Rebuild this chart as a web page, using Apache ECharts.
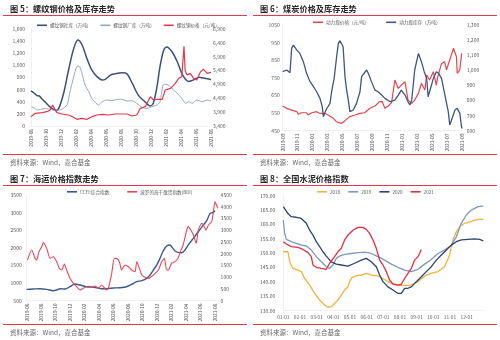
<!DOCTYPE html>
<html><head><meta charset="utf-8">
<script src="https://cdn.jsdelivr.net/npm/echarts@6/dist/echarts.min.js"></script>
<style>html,body{margin:0;padding:0;background:#fff}#c{width:500px;height:340px}</style>
</head><body><div id="c"></div>
<script>
// ---------- text ----------
const titles = ['图 5：螺纹钢价格及库存走势', '图 6：煤炭价格及库存走势', '图 7：海运价格指数走势', '图 8：全国水泥价格指数'];
const sourceText = '资料来源：Wind，嘉合基金';

// ---------- panel 1 : rebar ----------
const xLabels5 = ['2019-08','2019-10','2019-12','2020-02','2020-04','2020-06','2020-08','2020-10','2020-12','2021-02','2021-04','2021-06','2021-08'];
const leftTicks5 = [0,200,400,600,800,1000,1200,1400,1600];
const rightTicks5 = [3400,3900,4400,4900,5400,5900,6400,6900];
const names5 = ['螺纹钢社库（万吨）','螺纹钢厂库（万吨）','螺纹钢价格（元/吨）'];
// [month index from 2019-08, value]
const rebarSocial = [[0,580],[0.4,545],[0.8,500],[1.1,495],[1.5,440],[1.9,395],[2.5,320],[3.0,275],[3.3,255],[3.7,290],[4.35,540],[5.0,920],[5.7,1280],[6.25,1420],[6.8,1340],[7.45,1115],[8.1,925],[8.8,815],[9.5,760],[9.9,770],[10.6,840],[11.2,860],[12.1,880],[12.6,875],[12.9,845],[13.5,705],[14.3,510],[15.2,400],[15.9,330],[16.3,375],[16.8,650],[17.2,980],[17.7,1255],[18.1,1305],[18.8,1225],[19.5,1060],[20.1,870],[20.6,770],[21.0,735],[21.7,760],[22.4,805],[23.0,790],[23.7,775],[24.0,765]];
const rebarMill = [[0,320],[0.4,300],[0.8,265],[1.3,275],[1.9,290],[2.6,275],[3.2,253],[3.7,262],[4.1,275],[4.8,346],[5.2,566],[5.7,814],[6.1,979],[6.4,990],[6.8,869],[7.2,676],[7.7,566],[8.1,456],[8.6,385],[9.0,346],[9.5,400],[10.1,429],[10.8,418],[11.5,440],[12.1,440],[12.8,412],[13.5,418],[14.1,374],[14.8,308],[15.5,291],[16.1,319],[16.8,346],[17.2,400],[17.6,676],[17.9,687],[18.3,676],[18.8,621],[19.5,539],[20.1,456],[20.6,374],[21.0,400],[21.5,374],[22.1,429],[22.8,400],[23.5,429],[24.0,412]];
const rebarPrice = [[0,3737],[0.57,3857],[1.46,3881],[2.13,3917],[2.57,3977],[2.88,4158],[3.46,3881],[4.13,3833],[5.0,3797],[5.68,3713],[6.1,3641],[6.8,3677],[7.46,3641],[8.13,3737],[8.8,3797],[9.5,3821],[10.35,3797],[11.24,3833],[12.1,3833],[12.8,3833],[13.46,3761],[14.1,3797],[14.57,4038],[15.24,4098],[15.9,4459],[16.35,4338],[16.8,4362],[17.5,4362],[17.9,4700],[18.6,4759],[19.24,4940],[19.7,5120],[20.1,5180],[20.25,5250],[20.4,6280],[20.55,5400],[20.8,5240],[21.24,5300],[21.68,5120],[22.1,5060],[22.6,5361],[23.0,5445],[23.5,5300],[24.0,5337]];

// ---------- panel 2 : coal ----------
const xLabels6 = ['2019-09','2019-11','2020-01','2020-03','2020-05','2020-07','2020-09','2020-11','2021-01','2021-03','2021-05','2021-07','2021-09'];
const leftTicks6 = [450,550,650,750,850,950,1050];
const rightTicks6 = [600,700,800,900,1000,1100,1200,1300];
const names6 = ['动力煤价格（元/吨）','动力煤库存（万吨）'];
const coalPrice = [[0,590],[0.54,577],[1.2,567],[1.9,558],[2.1,543],[2.5,552],[3.2,552],[3.4,539],[3.9,552],[4.55,558],[5.0,548],[5.67,548],[6.1,539],[6.8,520],[7.2,501],[7.9,492],[8.35,507],[9.0,530],[9.7,539],[10.36,548],[11.0,552],[11.7,577],[12.37,590],[13.0,615],[13.35,615],[13.7,577],[14.15,590],[14.6,609],[15.04,738],[15.5,690],[15.9,709],[16.4,728],[16.8,624],[17.3,605],[17.7,624],[18.2,662],[18.6,719],[19.06,681],[19.3,766],[19.7,738],[20.2,785],[20.6,709],[20.8,757],[21.3,832],[21.7,842],[21.96,795],[22.4,851],[22.9,918],[23.3,870],[23.4,776],[23.75,795],[24.0,889]];
const coalStock = [[0,991],[0.54,1002],[0.76,1013],[0.98,984],[1.2,1145],[1.43,1167],[1.9,1134],[2.3,1112],[2.77,1057],[3.2,980],[3.66,925],[4.0,902],[4.24,914],[4.55,858],[5.0,814],[5.3,759],[5.45,693],[5.8,737],[6.34,781],[6.56,858],[6.9,947],[7.23,1090],[7.46,1178],[7.68,1196],[8.1,1156],[8.35,958],[8.57,869],[8.8,803],[9.0,726],[9.46,737],[9.9,781],[10.36,858],[10.58,958],[10.8,947],[11.25,1002],[11.47,980],[11.9,925],[12.37,869],[12.8,858],[13.26,836],[13.7,814],[14.4,792],[15.04,803],[15.5,836],[15.9,869],[16.4,836],[16.8,792],[17.05,770],[17.3,803],[17.7,1002],[18.2,1112],[18.6,1057],[18.97,991],[19.3,947],[19.5,825],[19.7,814],[20.2,947],[20.6,991],[20.9,980],[21.3,947],[21.7,847],[22.2,726],[22.4,638],[22.6,626],[23.1,737],[23.4,748],[23.75,715],[23.97,626],[24.05,615]];

// ---------- panel 3 : shipping ----------
const xLabels7 = ['2019-06','2019-08','2019-10','2019-12','2020-02','2020-04','2020-06','2020-08','2020-10','2020-12','2021-02','2021-04','2021-06','2021-08'];
const leftTicks7 = [500,1000,1500,2000,2500,3000,3500];
const rightTicks7 = [0,500,1000,1500,2000,2500,3000,3500,4000,4500];
const names7 = ['CCFI:综合指数','波罗的海干散货指数(BDI)'];
const ccfi = [[0,820],[0.9,831],[1.84,841],[2.76,822],[3.68,784],[4.14,803],[4.6,841],[5.3,831],[5.98,897],[6.67,973],[7.36,945],[8.28,897],[8.97,888],[9.66,869],[10.35,841],[11.04,841],[11.97,860],[12.9,869],[13.8,897],[14.5,964],[15.19,1039],[15.9,1068],[16.57,1134],[17.03,1228],[17.49,1370],[17.95,1512],[18.4,1701],[18.87,1919],[19.33,2051],[19.8,2080],[20.0,2033],[20.48,1910],[20.9,1872],[21.4,1862],[21.86,1938],[22.3,2080],[23.0,2269],[23.7,2458],[24.4,2647],[24.9,2789],[25.32,2978],[25.7,3000],[26.0,3054]];
const bdi = [[0.1,1730],[0.69,2158],[1.15,1803],[1.38,1732],[1.7,2087],[2.07,2300],[2.3,2471],[2.76,2229],[3.22,1803],[3.68,1874],[4.14,1661],[4.5,1377],[4.83,1306],[5.2,1562],[5.52,1306],[5.98,951],[6.44,738],[6.9,596],[7.36,454],[7.82,525],[8.28,596],[8.97,568],[9.43,625],[9.9,525],[10.35,667],[10.8,525],[11.04,454],[11.27,525],[11.74,1164],[12.1,1803],[12.4,1803],[12.8,1661],[13.1,1306],[13.58,1519],[14.04,1448],[14.5,1306],[14.96,1235],[15.19,1661],[15.4,1519],[15.9,1093],[16.34,994],[16.8,951],[17.49,1093],[18.18,1306],[18.64,1661],[19.0,1803],[19.33,1306],[19.56,1306],[20.0,1590],[20.48,1661],[20.9,1803],[21.13,2016],[21.6,2371],[22.1,3010],[22.3,3152],[22.8,2939],[23.1,2726],[23.4,2442],[23.7,3010],[24.17,3294],[24.4,3223],[24.77,3010],[25.1,3223],[25.55,3365],[25.78,3791],[26.0,4217],[26.2,4075],[26.4,3933]];

// ---------- panel 4 : cement ----------
const xLabels8 = ['01-01','02-01','03-01','04-01','05-01','06-01','07-01','08-01','09-01','10-01','11-01','12-01'];
const yTicks8 = [130,135,140,145,150,155,160,165,170];
const names8 = ['2018','2019','2020','2021'];
const cement2018 = [[0,150.5],[0.08,150.9],[0.28,150.5],[0.38,147.0],[0.58,144.7],[0.88,144.1],[1.08,143.6],[1.28,141.2],[1.58,138.9],[1.88,136.0],[2.18,133.7],[2.48,132.0],[2.68,131.2],[2.88,131.4],[3.08,132.5],[3.28,133.7],[3.48,135.4],[3.68,137.2],[3.88,138.3],[3.98,140.1],[4.12,141.6],[4.38,142.1],[4.68,142.4],[4.98,143.0],[5.28,142.4],[5.68,142.1],[5.98,141.2],[6.28,140.1],[6.58,139.3],[6.88,138.9],[7.28,138.7],[7.68,138.9],[8.08,140.1],[8.48,142.1],[8.88,143.0],[9.28,143.6],[9.68,145.3],[9.98,149.4],[10.18,154.6],[10.38,157.5],[10.58,159.2],[10.88,160.4],[11.18,160.9],[11.48,161.5],[11.78,161.8],[12.0,161.8]];
const cement2019 = [[0,161.5],[0.08,157.0],[0.18,154.8],[0.48,154.0],[0.78,153.4],[1.08,152.8],[1.38,152.5],[1.68,151.1],[1.98,148.8],[2.28,147.0],[2.58,145.3],[2.78,144.7],[2.98,145.9],[3.18,148.2],[3.38,149.0],[3.68,149.6],[4.08,149.9],[4.48,150.2],[4.88,150.4],[5.28,149.9],[5.68,148.8],[6.08,147.6],[6.48,146.2],[6.88,145.1],[7.28,144.1],[7.68,143.6],[8.08,144.4],[8.48,146.2],[8.88,147.8],[9.28,149.9],[9.68,151.1],[10.08,152.8],[10.38,155.7],[10.68,160.4],[10.98,163.3],[11.28,165.0],[11.68,166.2],[12.0,166.4]];
const cement2020 = [[0,166.2],[0.08,165.6],[0.28,163.8],[0.48,162.7],[0.78,162.5],[1.08,162.1],[1.38,160.4],[1.58,158.0],[1.78,156.3],[1.98,154.0],[2.18,152.3],[2.38,150.5],[2.58,149.0],[2.88,147.0],[3.18,146.2],[3.48,145.9],[3.88,145.5],[4.28,146.5],[4.68,147.6],[4.98,148.2],[5.28,147.0],[5.58,145.3],[5.78,142.4],[5.98,140.1],[6.28,138.3],[6.58,137.2],[6.88,136.0],[7.08,136.0],[7.28,137.8],[7.48,137.8],[7.68,138.3],[7.98,140.1],[8.28,141.8],[8.58,143.6],[8.88,145.3],[9.18,147.6],[9.48,149.4],[9.78,151.1],[10.08,152.8],[10.38,154.0],[10.68,154.6],[11.08,154.8],[11.48,155.0],[11.78,154.8],[12.0,154.3]];
const cement2021 = [[0,154.0],[0.18,153.2],[0.48,152.3],[0.88,152.0],[1.18,151.3],[1.48,150.2],[1.68,148.8],[1.78,145.9],[1.98,145.1],[2.28,144.7],[2.58,144.4],[2.78,146.5],[3.08,148.8],[3.28,150.5],[3.48,151.7],[3.68,154.6],[3.88,156.3],[4.18,158.0],[4.48,159.0],[4.78,159.0],[4.98,158.3],[5.18,156.9],[5.38,154.6],[5.58,151.7],[5.78,147.6],[5.98,145.9],[6.18,143.6],[6.38,140.7],[6.58,139.3],[6.88,138.9],[7.08,139.2],[7.28,141.2],[7.48,143.0],[7.68,144.7],[7.88,147.6],[8.08,148.8],[8.18,149.9],[8.28,151.3]];

// ---------- chart ----------
const LBL = '#595959', FONT = '"Noto Sans CJK SC", "Noto Sans", sans-serif';
const RED = '#E23A4A', AXIS = '#ECECEC';
const comma = v => Number(v).toLocaleString('en-US');
function xFmt(labels, step) {
  return v => { const i = v / step; const r = Math.round(i); return Math.abs(i - r) < 1e-6 && labels[r] ? labels[r] : ''; };
}
function xAxis(gi, max, step, labels, rotate) {
  return { type: 'value', gridIndex: gi, min: 0, max: max, interval: step,
    axisLine: { show: true, onZero: false, lineStyle: { color: AXIS, width: 0.8 } }, axisTick: { show: false }, splitLine: { show: false },
    axisLabel: { color: LBL, fontSize: 4.8, fontFamily: FONT, rotate: rotate ? 90 : 0, margin: rotate ? 3 : 4, formatter: xFmt(labels, step), showMinLabel: true, showMaxLabel: true } };
}
function yAxis(gi, ticks, pos, fmt, margin, showLine) {
  return { type: 'value', gridIndex: gi, position: pos, min: ticks[0], max: ticks[ticks.length - 1],
    axisLine: { show: !!showLine, lineStyle: { color: AXIS, width: 0.8 } }, axisTick: { show: false }, splitLine: { show: false },
    axisLabel: { color: LBL, fontSize: 5, fontFamily: FONT, margin: margin, customValues: ticks, formatter: fmt } };
}
function line(name, data, xi, yi, color, width, smooth) {
  return { name: name, type: 'line', xAxisIndex: xi, yAxisIndex: yi, data: data, symbol: 'none', smooth: smooth || false,
    lineStyle: { color: color, width: width }, itemStyle: { color: color }, animation: false };
}
function legend(names, left, top, gap) {
  return { data: names, left: left, top: top, itemGap: gap, itemWidth: 10, itemHeight: 1.6, icon: 'rect', padding: 0,
    textStyle: { color: LBL, fontSize: 4.6, fontFamily: FONT, padding: [0, 0, 0, -2] } };
}
const graphics = [];
const panels = [[0, 0], [250, 0], [0, 170], [250, 170]];
panels.forEach((p, i) => {
  graphics.push({ type: 'text', x: p[0] + 10, y: p[1] + 8.5, style: { text: titles[i], fill: '#262626', fontSize: 8.2, fontWeight: 'bold', fontFamily: FONT, verticalAlign: 'middle', textVerticalAlign: 'middle' } });
  graphics.push({ type: 'line', shape: { x1: p[0] + 3, y1: p[1] + 15.5, x2: p[0] + 247, y2: p[1] + 15.5 }, style: { stroke: RED, lineWidth: 1 } });
  graphics.push({ type: 'line', shape: { x1: p[0] + 3, y1: p[1] + 154.5, x2: p[0] + 247, y2: p[1] + 154.5 }, style: { stroke: RED, lineWidth: 1 } });
  graphics.push({ type: 'text', x: p[0] + 10, y: p[1] + 163, style: { text: sourceText, fill: '#666', fontSize: 6.5, fontFamily: FONT, verticalAlign: 'middle', textVerticalAlign: 'middle' } });
});

const option = {
  backgroundColor: '#fff',
  animation: false,
  graphic: graphics,
  grid: [
    { left: 31, top: 29, width: 180, height: 97 },
    { left: 282.7, top: 25, width: 179, height: 105.7 },
    { left: 26.7, top: 195, width: 191.9, height: 105.7 },
    { left: 283.3, top: 195.7, width: 200, height: 115 }
  ],
  legend: [
    legend(names5, 37, 23, 9),
    legend(names6, 313, 20, 17),
    legend(names7, 67, 189.5, 18),
    legend(names8, 317, 189.5, 8)
  ],
  xAxis: [
    xAxis(0, 24, 2, xLabels5, true),
    xAxis(1, 24, 2, xLabels6, true),
    xAxis(2, 26.5, 2, xLabels7, true),
    xAxis(3, 12, 1, xLabels8, false)
  ],
  yAxis: [
    yAxis(0, leftTicks5, 'left', comma, 6, true),
    yAxis(0, rightTicks5, 'right', comma, 2, false),
    yAxis(1, leftTicks6, 'left', v => String(v), 3, true),
    yAxis(1, rightTicks6, 'right', comma, 5, false),
    yAxis(2, leftTicks7, 'left', v => String(v), 5, true),
    yAxis(2, rightTicks7, 'right', v => String(v), 2, false),
    yAxis(3, yTicks8, 'left', v => Number(v).toFixed(2), 8, true)
  ],
  series: [
    line(names5[0], rebarSocial, 0, 0, '#3B4F7D', 1.5, 0.3),
    line(names5[1], rebarMill, 0, 0, '#95A6C6', 1, 0.2),
    line(names5[2], rebarPrice, 0, 1, RED, 1.2),
    line(names6[0], coalPrice, 1, 2, '#E0474C', 1.2),
    line(names6[1], coalStock, 1, 3, '#3F5680', 1.3),
    line(names7[0], ccfi, 2, 4, '#3A5A8C', 1.4, 0.3),
    line(names7[1], bdi, 2, 5, '#E8475A', 1.1, 0.2),
    line(names8[0], cement2018, 3, 6, '#F2B33D', 1.3),
    line(names8[1], cement2019, 3, 6, '#7F98BE', 1.3),
    line(names8[2], cement2020, 3, 6, '#2B4472', 1.3),
    line(names8[3], cement2021, 3, 6, '#E2303F', 1.3)
  ]
};
const chart = echarts.init(document.getElementById('c'), null, { renderer: 'canvas' });
chart.setOption(option);
</script></body></html>
